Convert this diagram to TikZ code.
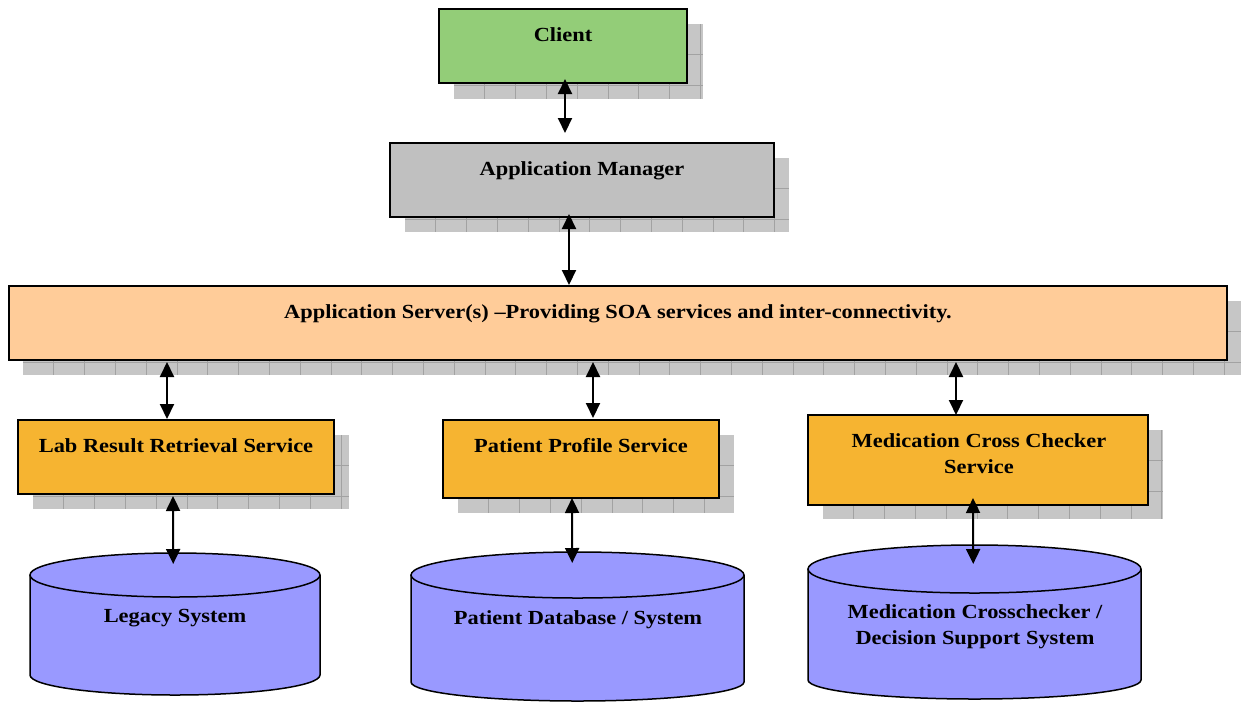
\documentclass[tikz,border=0pt]{standalone}
\usepackage{fontspec}
\setmainfont{Liberation Serif}[FakeStretch=1.12]
\usetikzlibrary{arrows.meta}
\definecolor{clientgreen}{HTML}{93CD78}
\definecolor{mgrgray}{HTML}{C0C0C0}
\definecolor{serverpeach}{HTML}{FFCC99}
\definecolor{serviceorange}{HTML}{F6B431}
\definecolor{dbblue}{HTML}{9999FF}
\definecolor{shadowgray}{HTML}{C6C6C6}
\definecolor{gridgray}{HTML}{A2A2A2}
\newcommand\shgrid[4]{%
  \fill[shadowgray] (#1,#2) rectangle (#3,#4);
  \begin{scope}
    \clip (#1,#2) rectangle (#3,#4);
    \foreach \i in {1,...,40} {\draw[gridline] ({#1+\i*30.8},#2) -- ({#1+\i*30.8},#4);}
    \foreach \j in {1,...,3} {\draw[gridline] (#1,{#2+\j*30.8}) -- (#3,{#2+\j*30.8});}
  \end{scope}}
% x1, x2, top centre y, bottom centre y, top ry, bottom ry
\newcommand\dbcyl[6]{%
  \filldraw[dbline] (#1,#3) -- (#1,#4)
    arc[start angle=180,end angle=0,x radius={(#2-#1)/2},y radius=#6] -- (#2,#3);
  \filldraw[dbline] ({(#1+#2)/2},#3) ellipse[x radius={(#2-#1)/2},y radius=#5];}
\begin{document}
\begin{tikzpicture}[x=1pt,y=-1pt,
  gridline/.style={draw=gridgray,line width=0.8pt},
  box/.style={draw=black,line width=2pt,inner sep=0pt,outer sep=0pt,anchor=north west},
  lbl/.style={font=\fontsize{20}{26}\selectfont\bfseries,inner sep=0pt,text=black},
  dbline/.style={draw=black,fill=dbblue,line width=1.5pt},
  conn/.style={{Triangle[width=14pt,length=15pt]}-{Triangle[width=14pt,length=15pt]},line width=2pt,black}]
\useasboundingbox (0,0) rectangle (1241,702);
% shadows
\shgrid{454}{24}{703}{99}
\shgrid{405}{158}{789}{232}
\shgrid{23}{301}{1241}{375}
\shgrid{33}{435}{349}{509}
\shgrid{458}{435}{734}{513}
\shgrid{823}{430}{1163}{519}
% boxes
\node[box,fill=clientgreen,minimum width=248pt,minimum height=74pt] (client) at (439,9) {};
\node[box,fill=mgrgray,minimum width=384pt,minimum height=74pt] (mgr) at (390,143) {};
\node[box,fill=serverpeach,minimum width=1218pt,minimum height=74pt] (server) at (9,286) {};
\node[box,fill=serviceorange,minimum width=316pt,minimum height=74pt] (lab) at (18,420) {};
\node[box,fill=serviceorange,minimum width=276pt,minimum height=78pt] (patient) at (443,420) {};
\node[box,fill=serviceorange,minimum width=340pt,minimum height=90pt] (med) at (808,415) {};
% cylinders
\dbcyl{30}{320}{575}{675}{22}{20}
\dbcyl{411}{744}{575}{682}{23}{19}
\dbcyl{808}{1141}{569}{680}{24}{19}
\node[inner sep=0pt,minimum width=290pt,minimum height=141pt,anchor=north west] (legacy) at (30,553) {};
\node[inner sep=0pt,minimum width=333pt,minimum height=150pt,anchor=north west] (pdb) at (411,552) {};
\node[inner sep=0pt,minimum width=333pt,minimum height=154pt,anchor=north west] (mdb) at (808,545) {};
% labels
\node[lbl,anchor=base] (clientT) at (563,41) {Client};
\node[lbl,anchor=base] (mgrT) at (582,175) {Application Manager};
\node[lbl,anchor=base] (serverT) at (618,318) {Application Server(s) –Providing SOA services and inter-connectivity.};
\node[lbl,anchor=base] (labT) at (176,452) {Lab Result Retrieval Service};
\node[lbl,anchor=base] (patientT) at (581,452) {Patient Profile Service};
\node[lbl,anchor=base,align=center] (medT) at (979,473) {Medication Cross Checker\\Service};
\node[lbl,anchor=base] (legacyT) at (175,622) {Legacy System};
\node[lbl,anchor=base] (pdbT) at (578,624) {Patient Database / System};
\node[lbl,anchor=base,align=center] (mdbT) at (975,644) {Medication Crosschecker /\\Decision Support System};
% connectors
\draw[conn] ([xshift=2pt,yshift=4pt]client.south) -- ([xshift=-17pt,yshift=10pt]mgr.north);
\draw[conn] ([xshift=-13pt,yshift=3pt]mgr.south) -- ([xshift=-49pt,yshift=1pt]server.north);
\draw[conn] ([xshift=-451pt,yshift=-2pt]server.south) -- ([xshift=-9pt,yshift=1pt]lab.north);
\draw[conn] ([xshift=-25pt,yshift=-2pt]server.south) -- ([xshift=12pt,yshift=2pt]patient.north);
\draw[conn] ([xshift=338pt,yshift=-2pt]server.south) -- ([xshift=-22pt,yshift=0pt]med.north);
\draw[conn] ([xshift=-3pt,yshift=-2pt]lab.south) -- ([xshift=-2pt,yshift=-11pt]legacy.north);
\draw[conn] ([xshift=-9pt,yshift=0pt]patient.south) -- ([xshift=-5.5pt,yshift=-11pt]pdb.north);
\draw[conn] ([xshift=-5pt,yshift=7pt]med.south) -- ([xshift=-1.5pt,yshift=-19pt]mdb.north);
\end{tikzpicture}
\end{document}
